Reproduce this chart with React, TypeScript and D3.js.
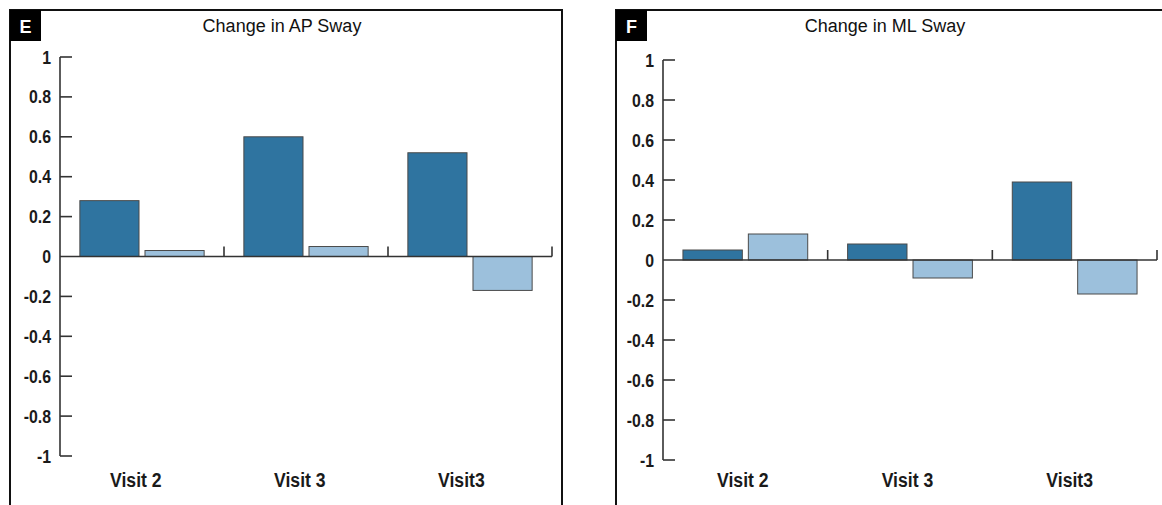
import * as d3 from "d3";

// chart data
const categories = ["Visit 2", "Visit 3", "Visit3"];
const series = ["dark", "light"];
const apDark = [0.28, 0.6, 0.52];
const apLight = [0.03, 0.05, -0.17];
const mlDark = [0.05, 0.08, 0.39];
const mlLight = [0.13, -0.09, -0.17];
const yTicks = [1, 0.8, 0.6, 0.4, 0.2, 0, -0.2, -0.4, -0.6, -0.8, -1];

const colors: Record<string, string> = { dark: "#2f74a0", light: "#9cc0dc" };
const sans = "'Liberation Sans', Arial, sans-serif";

interface PanelProps {
  letter: string;
  title: string;
  dark: number[];
  light: number[];
  frameX: number;
  frameW: number;
  axisX: number;
  axisEnd: number;
  yTop: number;
  yBottom: number;
  labelOffset: number;
}

// narrow-looking bold text: Liberation Sans squeezed horizontally
const NarrowText = ({ x, y, size, sx, anchor, children }: { x: number; y: number; size: number; sx: number; anchor?: string; children: string }) => (
  <text transform={`translate(${x},${y}) scale(${sx},1)`} textAnchor={anchor} fill="#1a1a1a" fontFamily={sans} fontWeight="bold" fontSize={size}>{children}</text>
);

const Panel = ({ letter, title, dark, light, frameX, frameW, axisX, axisEnd, yTop, yBottom, labelOffset }: PanelProps) => {
  const y = d3.scaleLinear().domain([-1, 1]).range([yBottom, yTop]);
  const x = d3.scaleBand<string>().domain(categories).range([axisX, axisEnd]).padding(0);
  const inner = d3.scaleBand<string>().domain(series)
    .range([0, x.bandwidth()])
    .paddingInner(0.092)
    .paddingOuter(0.305);
  const y0 = y(0);

  return (
    <g>
      {/* frame */}
      <path d={`M${frameX},520 V10 H${frameX + frameW} V520`} fill="none" stroke="#111" strokeWidth={2} />
      <rect x={frameX} y={10} width={31} height={31} fill="#000" />
      <text x={frameX + 15.5} y={33} textAnchor="middle" fill="#fff" fontFamily={sans} fontWeight="bold" fontSize={18}>{letter}</text>
      <text x={axisX + 222} y={32} textAnchor="middle" fill="#111" fontFamily={sans} fontSize={18}>{title}</text>

      {/* y axis */}
      <line x1={axisX} x2={axisX} y1={y(1)} y2={y(-1)} stroke="#333" strokeWidth={1.6} />
      {yTicks.map((t) => (
        <g key={t}>
          {t !== 0 && <line x1={axisX} x2={axisX + 12} y1={y(t)} y2={y(t)} stroke="#333" strokeWidth={1.6} />}
          <NarrowText x={axisX - 9} y={y(t) + 6.5} size={18} sx={0.88} anchor="end">{String(t)}</NarrowText>
        </g>
      ))}

      {/* bars */}
      {categories.map((c, i) => (
        <g key={c} transform={`translate(${x(c)},0)`}>
          {[dark[i], light[i]].map((v, j) => (
            <rect
              key={series[j]}
              x={inner(series[j])}
              y={Math.min(y(v), y0)}
              width={inner.bandwidth()}
              height={Math.abs(y(v) - y0)}
              fill={colors[series[j]]}
              stroke="#4a4a4a"
              strokeWidth={1}
            />
          ))}
        </g>
      ))}

      {/* x axis at zero with upward separators */}
      <line x1={axisX} x2={axisEnd} y1={y0} y2={y0} stroke="#333" strokeWidth={1.6} />
      {categories.map((c) => (
        <line key={c} x1={(x(c) as number) + x.bandwidth()} x2={(x(c) as number) + x.bandwidth()} y1={y0} y2={y0 - 10} stroke="#333" strokeWidth={1.6} />
      ))}
      {categories.map((c) => (
        <NarrowText key={c} x={(x(c) as number) + labelOffset} y={487} size={21} sx={0.84}>{c}</NarrowText>
      ))}
    </g>
  );
};

export default function App() {
  return (
    <svg width={1162} height={505} style={{ position: "absolute", left: 0, top: 0, background: "#fff" }}>
      <Panel letter="E" title="Change in AP Sway" dark={apDark} light={apLight}
        frameX={10} frameW={552} axisX={60} axisEnd={552} yTop={57} yBottom={456} labelOffset={50} />
      <Panel letter="F" title="Change in ML Sway" dark={mlDark} light={mlLight}
        frameX={616} frameW={560} axisX={663} axisEnd={1157} yTop={60} yBottom={460} labelOffset={54} />
    </svg>
  );
}
